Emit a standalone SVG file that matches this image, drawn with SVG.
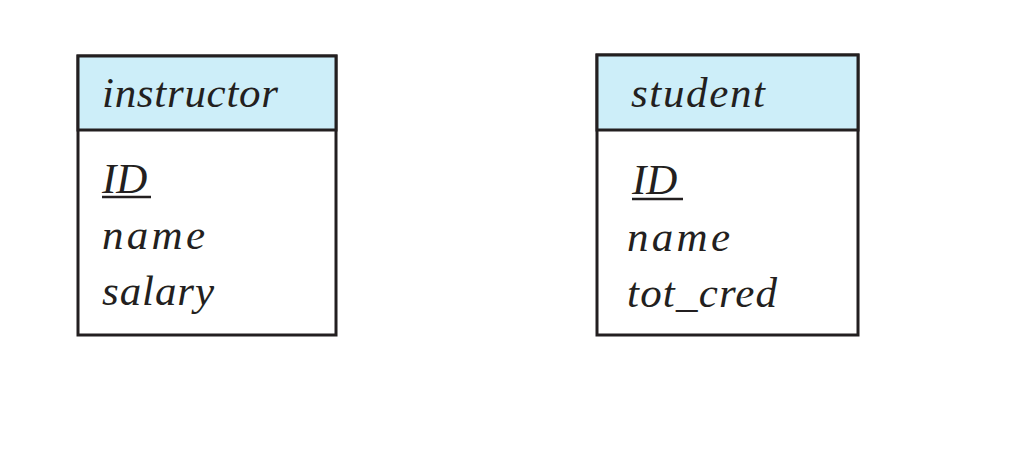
<svg xmlns="http://www.w3.org/2000/svg" width="1035" height="459" viewBox="0 0 1035 459">
<style>
.hd{fill:#cdeef9;stroke:#231f20;stroke-width:3}
.bd{fill:#fff;stroke:#231f20;stroke-width:3}
text{font-family:"Liberation Serif",serif;font-style:italic;font-size:43px;fill:#231f20}
</style>
<rect width="1035" height="459" fill="#fff"/>
<g id="instructor">
<rect class="bd" x="78" y="56" width="258" height="279"/>
<rect class="hd" x="78" y="56" width="258" height="74"/>
<text x="102" y="107" textLength="176">instructor</text>
<text x="102" y="193">ID</text>
<line x1="102" y1="197" x2="151" y2="197" stroke="#231f20" stroke-width="2.5"/>
<text x="102" y="249" textLength="103">name</text>
<text x="102" y="305" textLength="112">salary</text>
</g>
<g id="student">
<rect class="bd" x="597" y="55" width="261" height="280"/>
<rect class="hd" x="597" y="55" width="261" height="75"/>
<text x="631" y="107" textLength="134">student</text>
<text x="632" y="194">ID</text>
<line x1="632" y1="199" x2="683" y2="199" stroke="#231f20" stroke-width="2.5"/>
<text x="627" y="251" textLength="103">name</text>
<text x="627" y="307" textLength="150">tot_cred</text>
</g>
<g id="connectors"/>
</svg>
